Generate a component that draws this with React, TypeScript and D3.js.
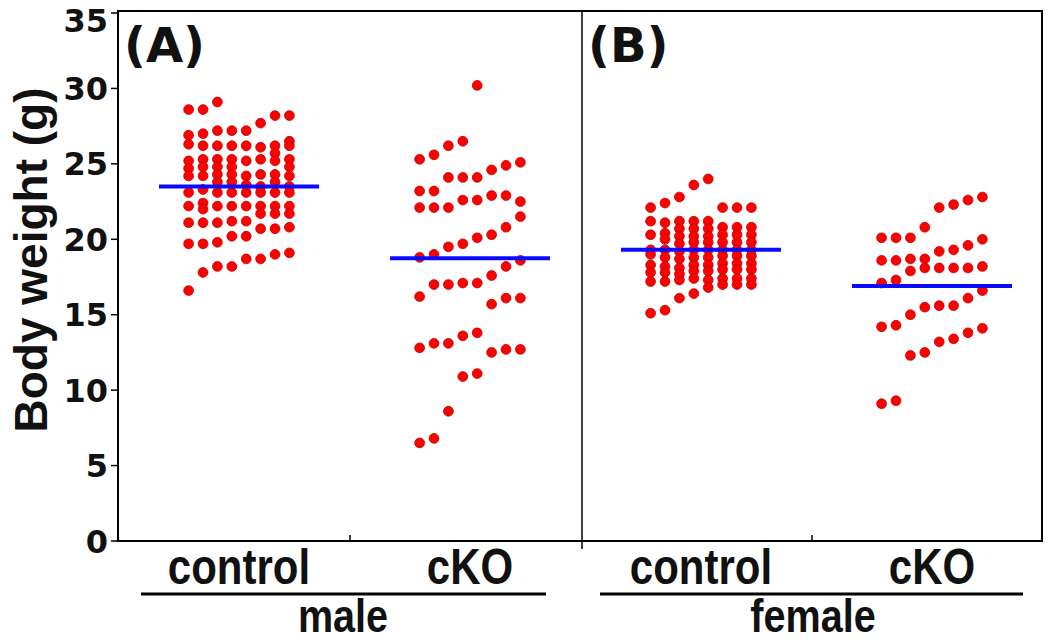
import React from "react";
import * as d3 from "d3";

// ---- data ----
const groups = ["male-control", "male-cKO", "female-control", "female-cKO"];
const categoryLabels = ["control", "cKO", "control", "cKO"];
const sexLabels = ["male", "female"];
const panelLabels = ["(A)", "(B)"];
const yTicks = [0, 5, 10, 15, 20, 25, 30, 35];

// each group: columns of body weights (g), left to right
const maleControl: number[][] = [
  [28.6, 26.9, 26.3, 25.2, 24.7, 24.2, 23.1, 22.2, 21.1, 19.7, 16.6],
  [28.6, 27.0, 26.2, 25.3, 24.8, 24.2, 23.3, 22.4, 22.0, 21.1, 19.7, 17.8],
  [29.1, 27.2, 26.2, 25.3, 24.8, 24.3, 23.8, 23.1, 22.2, 21.1, 19.8, 18.2],
  [27.2, 26.2, 25.3, 24.8, 24.3, 23.8, 23.1, 22.2, 21.2, 20.2, 18.2],
  [27.2, 26.2, 25.2, 24.2, 23.6, 23.1, 22.2, 21.2, 20.2, 18.7],
  [27.7, 26.1, 25.3, 24.3, 23.5, 23.1, 22.2, 21.7, 20.7, 18.7],
  [28.2, 26.2, 25.7, 25.2, 24.3, 23.8, 23.1, 22.2, 21.7, 20.7, 19.0],
  [28.2, 26.5, 26.2, 25.3, 24.8, 24.2, 23.5, 23.1, 22.2, 21.7, 20.8, 19.1],
];
const maleCKO: number[][] = [
  [25.3, 23.2, 22.1, 18.8, 16.2, 12.8, 6.5],
  [25.6, 23.2, 22.1, 19.0, 17.0, 13.1, 6.8],
  [26.2, 24.1, 22.1, 19.5, 17.0, 13.1, 8.6],
  [26.5, 24.1, 22.6, 19.7, 17.1, 13.6, 10.9],
  [30.2, 24.1, 22.6, 20.1, 17.1, 13.8, 11.1],
  [24.6, 22.9, 20.3, 17.6, 15.7, 12.5],
  [24.9, 22.9, 20.8, 18.2, 16.1, 12.7],
  [25.1, 22.5, 21.5, 18.6, 16.1, 12.7],
];
const femaleControl: number[][] = [
  [22.1, 21.2, 20.3, 19.3, 19.0, 18.3, 17.8, 17.2, 15.1],
  [22.4, 21.1, 20.4, 20.0, 19.3, 18.8, 18.2, 17.8, 17.2, 15.3],
  [22.8, 21.2, 20.7, 20.2, 19.7, 19.2, 18.7, 18.1, 17.7, 17.3, 16.1],
  [23.6, 21.2, 20.7, 20.2, 19.8, 19.3, 18.8, 18.3, 17.9, 17.4, 16.4],
  [24.0, 21.2, 20.7, 20.2, 19.8, 19.3, 18.8, 18.3, 17.9, 17.3, 16.8],
  [22.1, 20.8, 20.3, 19.8, 19.3, 18.9, 18.4, 18.0, 17.4, 17.0],
  [22.1, 20.8, 20.3, 19.8, 19.3, 18.9, 18.4, 18.0, 17.4, 17.0],
  [22.1, 20.8, 20.3, 19.8, 19.3, 18.9, 18.4, 18.0, 17.4, 17.0],
];
const femaleCKO: number[][] = [
  [20.1, 18.6, 17.1, 14.2, 9.1],
  [20.1, 18.6, 17.3, 14.3, 9.3],
  [20.1, 18.7, 17.9, 15.0, 12.3],
  [20.8, 18.7, 18.1, 15.5, 12.5],
  [22.1, 19.2, 18.1, 15.6, 13.2],
  [22.3, 19.3, 18.1, 15.6, 13.4],
  [22.6, 19.6, 18.1, 16.1, 13.8],
  [22.8, 20.0, 18.2, 16.6, 14.1],
];
const groupMeans = [23.5, 18.75, 19.3, 16.9];

const groupData = [maleControl, maleCKO, femaleControl, femaleCKO];

// ---- layout ----
const W = 1050;
const H = 643;
const frame = { left: 118, right: 1042, top: 11, bottom: 541 };
const divider = 582;
const colStep = 14.4;
const meanHalf = 80;
const dotR = 4.9;

const y = d3.scaleLinear().domain([0, 35]).range([541, 13]);
const x = d3.scalePoint<string>().domain(groups).range([239, 932]);

const panels = [
  { x0: frame.left, x1: divider, line: [141, 546], labelX: 343 },
  { x0: divider, x1: frame.right, line: [600, 1023], labelX: 813 },
];

export default function App() {
  const dots: { cx: number; cy: number; key: string }[] = [];
  groupData.forEach((cols, g) => {
    const cx0 = x(groups[g]) as number;
    cols.forEach((col, i) => {
      const off = (i - (cols.length - 1) / 2) * colStep;
      col.forEach((v, j) => {
        dots.push({ cx: cx0 + off, cy: y(v), key: `${g}-${i}-${j}` });
      });
    });
  });

  return (
    <svg
      width={W}
      height={H}
      style={{ position: "absolute", left: 0, top: 0, background: "#fff" }}
    >
      <rect x={0} y={0} width={W} height={H} fill="#fff" />
      {/* frame */}
      <rect
        x={frame.left}
        y={frame.top}
        width={frame.right - frame.left}
        height={frame.bottom - frame.top}
        fill="none"
        stroke="#000"
        strokeWidth={2}
      />
      <line x1={divider} x2={divider} y1={frame.top} y2={frame.bottom + 8} stroke="#000" strokeWidth={1.5} />
      {panels.map((p, i) => (
        <line
          key={"pt" + i}
          x1={(p.x0 + p.x1) / 2}
          x2={(p.x0 + p.x1) / 2}
          y1={frame.bottom}
          y2={frame.bottom - 6}
          stroke="#000"
          strokeWidth={1.5}
        />
      ))}
      {/* y axis */}
      {yTicks.map((t) => (
        <g key={"yt" + t}>
          <line x1={frame.left - 7} x2={frame.left} y1={y(t)} y2={y(t)} stroke="#000" strokeWidth={1.5} />
          <text
            x={108}
            y={Math.max(y(t), 20)}
            dy="0.36em"
            textAnchor="end"
            fontFamily="DejaVu Sans"
            fontWeight="bold"
            fontSize={32}
            fill="#111"
          >
            {t}
          </text>
        </g>
      ))}
      <text
        transform={`translate(47, ${260}) rotate(-90)`}
        textAnchor="middle"
        fontFamily="Liberation Sans, Arial, sans-serif"
        fontWeight="bold"
        fontSize={46}
        fill="#111"
      >
        Body weight (g)
      </text>
      {/* panel labels */}
      {panels.map((p, i) => (
        <text
          key={"pl" + i}
          x={p.x0 + 6}
          y={62}
          fontFamily="DejaVu Sans"
          fontWeight="bold"
          fontSize={48}
          fill="#111"
        >
          {panelLabels[i]}
        </text>
      ))}
      {/* dots */}
      {dots.map((d) => (
        <circle key={d.key} cx={d.cx} cy={d.cy} r={dotR} fill="#ff0000" stroke="#c00000" strokeWidth={0.8} />
      ))}
      {/* mean lines */}
      {groups.map((g, i) => (
        <line
          key={"m" + g}
          x1={(x(g) as number) - meanHalf}
          x2={(x(g) as number) + meanHalf}
          y1={y(groupMeans[i])}
          y2={y(groupMeans[i])}
          stroke="#0a0aff"
          strokeWidth={4}
        />
      ))}
      {/* category labels */}
      {groups.map((g, i) => (
        <text
          key={"cl" + g}
          transform={`translate(${x(g)}, 584) scale(0.84, 1)`}
          textAnchor="middle"
          fontFamily="Liberation Sans, Arial, sans-serif"
          fontWeight="bold"
          fontSize={50}
          fill="#111"
        >
          {categoryLabels[i]}
        </text>
      ))}
      {/* sex labels and underlines */}
      {panels.map((p, i) => (
        <g key={"sx" + i}>
          <line x1={p.line[0]} x2={p.line[1]} y1={594} y2={594} stroke="#000" strokeWidth={3} />
          <text
            transform={`translate(${p.labelX}, 632) scale(0.86, 1)`}
            textAnchor="middle"
            fontFamily="Liberation Sans, Arial, sans-serif"
            fontWeight="bold"
            fontSize={46}
            fill="#111"
          >
            {sexLabels[i]}
          </text>
        </g>
      ))}
    </svg>
  );
}
